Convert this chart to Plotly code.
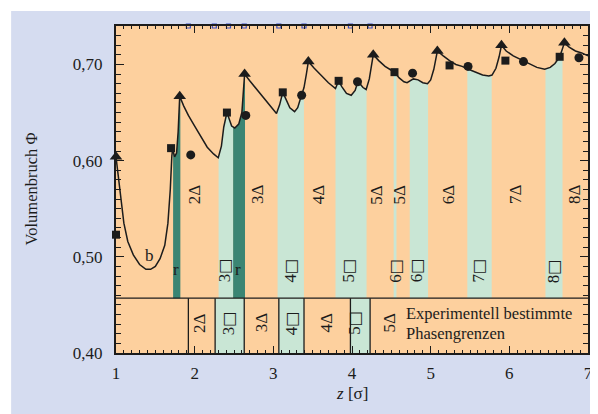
import plotly.graph_objects as go

# ---- data ----
curve_z = [1.00, 1.03, 1.06, 1.10, 1.15, 1.22, 1.30, 1.38, 1.44, 1.50, 1.56, 1.62, 1.66, 1.69, 1.71, 1.72, 1.745, 1.77, 1.79, 1.81,
           1.86, 1.92, 2.00, 2.08, 2.16, 2.24, 2.30, 2.34, 2.37, 2.41, 2.44, 2.47, 2.51, 2.56, 2.60, 2.62, 2.635,
           2.70, 2.80, 2.90, 2.98, 3.04, 3.08, 3.12, 3.16, 3.21, 3.27, 3.31, 3.35, 3.39, 3.42, 3.445,
           3.52, 3.60, 3.70, 3.79, 3.83, 3.87, 3.93, 3.99, 4.04, 4.07, 4.10, 4.14, 4.18, 4.22, 4.25, 4.27,
           4.34, 4.42, 4.50, 4.54, 4.60, 4.66, 4.70, 4.74, 4.78, 4.84, 4.90, 4.96, 5.00, 5.04, 5.085,
           5.16, 5.24, 5.32, 5.40, 5.48, 5.56, 5.66, 5.74, 5.78, 5.83, 5.87, 5.90,
           5.96, 6.05, 6.15, 6.25, 6.35, 6.45, 6.52, 6.58, 6.64, 6.67, 6.70, 6.76, 6.84, 6.92, 7.00]
curve_phi = [0.604, 0.585, 0.560, 0.535, 0.516, 0.502, 0.492, 0.487, 0.487, 0.490, 0.498, 0.512, 0.535, 0.570, 0.605, 0.612, 0.604, 0.608, 0.630, 0.667,
             0.657, 0.647, 0.636, 0.625, 0.614, 0.607, 0.603, 0.615, 0.635, 0.650, 0.643, 0.636, 0.634, 0.638, 0.650, 0.668, 0.690,
             0.683, 0.673, 0.662, 0.654, 0.649, 0.658, 0.671, 0.664, 0.655, 0.651, 0.655, 0.666, 0.676, 0.690, 0.703,
             0.696, 0.689, 0.681, 0.675, 0.683, 0.677, 0.670, 0.668, 0.673, 0.681, 0.680, 0.676, 0.674, 0.685, 0.700, 0.710,
             0.704, 0.698, 0.694, 0.692, 0.686, 0.682, 0.681, 0.683, 0.685, 0.684, 0.681, 0.680, 0.684, 0.695, 0.714,
             0.709, 0.704, 0.700, 0.698, 0.695, 0.692, 0.689, 0.688, 0.689, 0.696, 0.708, 0.720,
             0.714, 0.709, 0.705, 0.701, 0.697, 0.695, 0.697, 0.701, 0.708, 0.715, 0.7225, 0.718, 0.714, 0.712, 0.709]

tri_z = [1.00, 1.81, 2.635, 3.445, 4.27, 5.085, 5.90, 6.70]
tri_phi = [0.604, 0.667, 0.690, 0.703, 0.710, 0.714, 0.720, 0.7225]
sq_z = [1.00, 1.70, 2.41, 3.12, 3.83, 4.54, 5.24, 5.95, 6.64]
sq_phi = [0.523, 0.613, 0.650, 0.671, 0.683, 0.692, 0.699, 0.704, 0.708]
circ_z = [1.95, 2.65, 3.36, 4.07, 4.77, 5.475, 6.18, 6.885]
circ_phi = [0.606, 0.647, 0.668, 0.682, 0.691, 0.698, 0.703, 0.707]

# simulated phase regions (under curve)
dark_bands = [(1.726, 1.818), (2.489, 2.640)]
light_bands = [(2.304, 2.489), (3.054, 3.389), (3.790, 4.185), (4.530, 4.565),
               (4.734, 4.967), (5.466, 5.776), (6.459, 6.676)]
upper_delta_z = [1.99, 2.80, 3.566, 4.31, 4.60, 5.22, 6.08, 6.83]
upper_delta_n = ["2", "3", "4", "5", "5", "6", "7", "8"]
upper_sq_z = [2.38, 3.22, 3.96, 4.56, 4.82, 5.61, 6.56]
upper_sq_n = ["3", "4", "5", "6", "6", "7", "8"]
r_z = [1.767, 2.547]

# experimental phase boundaries (bottom strip)
exp_bounds = [1.92, 2.26, 2.63, 3.07, 3.39, 3.98, 4.23]
exp_green = [(2.26, 2.63), (3.07, 3.39), (3.98, 4.23)]
exp_lab_z = [2.06, 2.43, 2.85, 3.23, 3.68, 4.04, 4.48]
exp_lab_n = ["2", "3", "3", "4", "4", "5", "5"]
exp_lab_kind = ["Δ", "□", "Δ", "□", "Δ", "□", "Δ"]
top_marks = [1.92, 2.25, 2.43, 2.63, 3.07, 3.39, 3.98, 4.23]

y_ticks = [0.40, 0.50, 0.60, 0.70]
y_ticktext = ["0,40", "0,50", "0,60", "0,70"]
x_ticks = [1, 2, 3, 4, 5, 6, 7]

# ---- style ----
ORANGE = "#fdd09e"
LIGHT = "#c9e6d5"
DARK = "#3b8573"
LAV = "#d5dcf0"
INK = "#1c1c1c"
FONT = "Liberation Serif"
YTOP, YSTRIP, YBOT = 0.74, 0.457, 0.40


def lab(n, kind):
    if kind == "□":
        return n + "<span style='font-family:DejaVu Sans;font-size:16px'>□</span>"
    return n + "Δ"


fig = go.Figure()

shapes = []
for a, b in light_bands:
    shapes.append(dict(type="rect", xref="x", yref="y", x0=a, x1=b, y0=YSTRIP, y1=YTOP,
                       fillcolor=LIGHT, line_width=0, layer="below"))
for a, b in dark_bands:
    shapes.append(dict(type="rect", xref="x", yref="y", x0=a, x1=b, y0=YSTRIP, y1=YTOP,
                       fillcolor=DARK, line_width=0, layer="below"))
for a, b in exp_green:
    shapes.append(dict(type="rect", xref="x", yref="y", x0=a, x1=b, y0=YBOT, y1=YSTRIP,
                       fillcolor=LIGHT, line_width=0, layer="below"))
shapes.append(dict(type="line", xref="x", yref="y", x0=1, x1=7, y0=YSTRIP, y1=YSTRIP,
                   line=dict(color=INK, width=1.3), layer="above"))
for xb in exp_bounds:
    shapes.append(dict(type="line", xref="x", yref="y", x0=xb, x1=xb, y0=YBOT, y1=YSTRIP,
                       line=dict(color=INK, width=1.3), layer="above"))
# white page margins outside the lavender panel
shapes.append(dict(type="rect", xref="paper", yref="paper", x0=-0.4, x1=1.2, y0=1.046, y1=1.3,
                   fillcolor="white", line_width=0, layer="above"))
shapes.append(dict(type="rect", xref="paper", yref="paper", x0=-0.4, x1=-0.2222, y0=-0.3, y1=1.3,
                   fillcolor="white", line_width=0, layer="above"))

# orange cover above the curve (hides band tops)
fig.add_trace(go.Scatter(x=curve_z, y=curve_phi, mode="lines", line=dict(width=0),
                         hoverinfo="skip", showlegend=False))
fig.add_trace(go.Scatter(x=[1, 7], y=[YTOP + 0.01, YTOP + 0.01], mode="lines", line=dict(width=0),
                         fill="tonexty", fillcolor=ORANGE, hoverinfo="skip", showlegend=False))
# curve
fig.add_trace(go.Scatter(x=curve_z, y=curve_phi, mode="lines", line=dict(color=INK, width=1.5),
                         showlegend=False))
# markers
fig.add_trace(go.Scatter(x=tri_z, y=tri_phi, mode="markers", cliponaxis=False,
                         marker=dict(symbol="triangle-up", size=11, color=INK), showlegend=False))
fig.add_trace(go.Scatter(x=sq_z, y=sq_phi, mode="markers", cliponaxis=False,
                         marker=dict(symbol="square", size=8, color=INK), showlegend=False))
fig.add_trace(go.Scatter(x=circ_z, y=circ_phi, mode="markers", cliponaxis=False,
                         marker=dict(symbol="circle", size=9, color=INK), showlegend=False))
fig.add_trace(go.Scatter(x=top_marks, y=[YTOP] * len(top_marks), mode="markers", cliponaxis=False,
                         marker=dict(symbol="square-open", size=4, color="#3b4fc4",
                                     line=dict(width=1.2, color="#3b4fc4")), showlegend=False))

ann = []
tf = dict(family=FONT, size=17, color=INK)
for z, n in zip(upper_delta_z, upper_delta_n):
    ann.append(dict(x=z, y=0.565, text=lab(n, "Δ"), textangle=-90, showarrow=False, font=tf))
for z, n in zip(upper_sq_z, upper_sq_n):
    ann.append(dict(x=z, y=0.4855, text=lab(n, "□"), textangle=-90, showarrow=False, font=tf))
for z in r_z:
    ann.append(dict(x=z, y=0.487, text="r", showarrow=False, font=dict(family=FONT, size=17, color=INK)))
ann.append(dict(x=1.42, y=0.501, text="b", showarrow=False, font=dict(family=FONT, size=17, color=INK)))
for z, n, k in zip(exp_lab_z, exp_lab_n, exp_lab_kind):
    ann.append(dict(x=z, y=0.4315, text=lab(n, k), textangle=-90, showarrow=False, font=tf))
ann.append(dict(x=4.665, y=0.4412, xanchor="left", yanchor="middle", showarrow=False,
                text="Experimentell bestimmte", font=dict(family=FONT, size=16.5, color=INK)))
ann.append(dict(x=4.665, y=0.4203, xanchor="left", yanchor="middle", showarrow=False,
                text="Phasengrenzen", font=dict(family=FONT, size=16.5, color=INK)))
ann.append(dict(xref="paper", yref="paper", x=-0.180, y=0.5, xanchor="center", yanchor="middle",
                text="Volumenbruch Φ", textangle=-90,
                showarrow=False, font=dict(family=FONT, size=16.5, color=INK)))
ann.append(dict(xref="paper", yref="paper", x=0.5, y=-0.125, xanchor="center", yanchor="middle",
                text="<i>z</i> [σ]", showarrow=False, font=dict(family=FONT, size=17, color=INK)))

# figure sits inside the page body (8 px default margin), so sizes are reduced accordingly
fig.update_layout(
    width=590, height=406,
    margin=dict(l=108, r=5, t=18, b=61),
    paper_bgcolor=LAV, plot_bgcolor=ORANGE,
    shapes=shapes, annotations=ann, showlegend=False,
    font=dict(family=FONT, size=15, color=INK),
)
fig.update_xaxes(range=[1, 7], tickvals=x_ticks, ticks="inside", ticklen=7, tickwidth=1.3,
                 tickcolor=INK, showline=True, linecolor=INK, linewidth=2, mirror="ticks",
                 showgrid=False, zeroline=False, ticklabelstandoff=4,
                 tickfont=dict(family=FONT, size=17, color=INK),
                 minor=dict(dtick=0.1, ticks="inside", ticklen=3, tickcolor=INK, tickwidth=1, showgrid=False))
fig.update_yaxes(range=[YBOT, YTOP], tickvals=y_ticks, ticktext=y_ticktext, ticks="inside", ticklen=8,
                 tickwidth=1.3, tickcolor=INK, showline=True, linecolor=INK, linewidth=2, mirror="ticks",
                 showgrid=False, zeroline=False, ticklabelstandoff=8,
                 tickfont=dict(family=FONT, size=17, color=INK),
                 minor=dict(dtick=0.01, ticks="inside", ticklen=5, tickcolor=INK, tickwidth=1, showgrid=False))

fig.write_html("out.html")
